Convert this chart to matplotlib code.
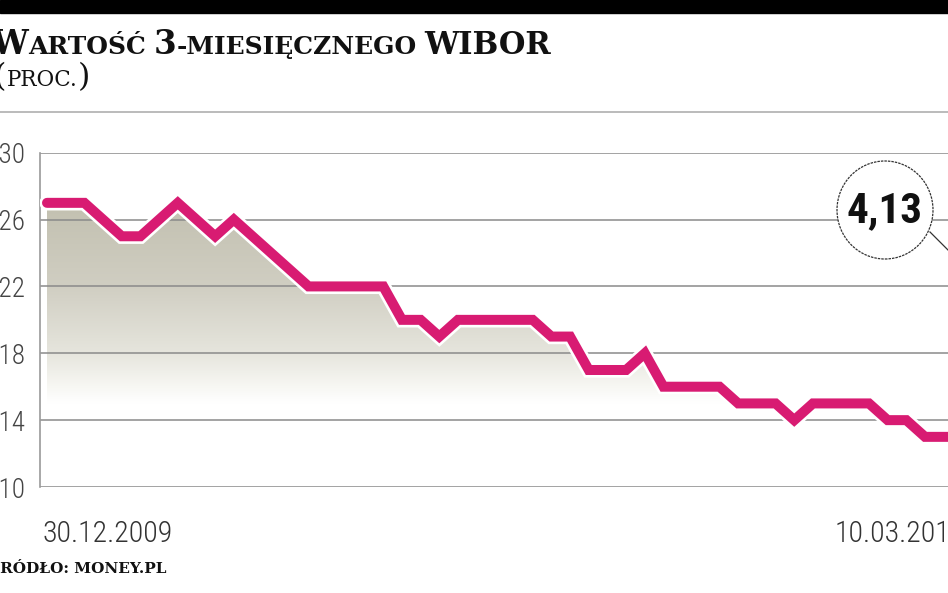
import numpy as np
import matplotlib
matplotlib.use("Agg")
import matplotlib.pyplot as plt
import matplotlib.patheffects as pe
from matplotlib import font_manager
from matplotlib.patches import Polygon, Ellipse, Rectangle
from matplotlib.lines import Line2D
from matplotlib.text import Annotation

# 3M WIBOR, daily fixings 30.12.2009 - 10.03.2010
wibor = [4.27, 4.27, 4.27, 4.26, 4.25, 4.25, 4.26, 4.27, 4.26, 4.25,
         4.26, 4.25, 4.24, 4.23, 4.22, 4.22, 4.22, 4.22, 4.22, 4.20,
         4.20, 4.19, 4.20, 4.20, 4.20, 4.20, 4.20, 4.19, 4.19, 4.17,
         4.17, 4.17, 4.18, 4.16, 4.16, 4.16, 4.16, 4.15, 4.15, 4.15,
         4.14, 4.15, 4.15, 4.15, 4.15, 4.14, 4.14, 4.13, 4.13, 4.13]
dates = ["30.12.2009", "10.03.2010"]
yticks = [4.10, 4.14, 4.18, 4.22, 4.26, 4.30]
ylabels = ["4,10", "4,14", "4,18", "4,22", "4,26", "4,30"]
title = [("W", 23.5, 0), ("ARTOŚĆ", 18, 0), ("3", 23.5, 8), ("-MIESIĘCZNEGO", 18, 0), ("WIBOR", 22, 8)]
subtitle = [("(", 23, 0), ("PROC.", 15.5, 0), (")", 23, 1)]
source = "ŹRÓDŁO: MONEY.PL"

W, H = 948, 593
def fx(px): return px / W
def fy(py): return 1 - py / H

# pick a narrow sans for the numbers, if there is one
names = {f.name for f in font_manager.fontManager.ttflist}
narrow = next((n for n in ["Liberation Sans Narrow", "DejaVu Sans Condensed", "Roboto Condensed"] if n in names), "DejaVu Sans")
serif = "DejaVu Serif"

fig = plt.figure(figsize=(W / 100, H / 100), dpi=100)
fig.patch.set_facecolor("white")

# top black band and thin rule under the header
fig.add_artist(Rectangle((0, fy(13)), 1, 13 / H, transform=fig.transFigure, color="black", zorder=5))
fig.add_artist(Line2D([0, 1], [fy(112), fy(112)], transform=fig.transFigure, color="#a8a8a8", lw=1.1))

# chained text pieces to fake small caps
def caps(pieces, x0, ybase, weight):
    prev = fig.text(fx(x0), fy(ybase), pieces[0][0], fontsize=pieces[0][1], family=serif,
                    weight=weight, ha="left", va="baseline", color="#111")
    for txt, size, gap in pieces[1:]:
        a = Annotation(txt, xy=(1, fy(ybase)), xycoords=(prev, "figure fraction"),
                       xytext=(gap, 0), textcoords="offset pixels", fontsize=size, family=serif,
                       weight=weight, ha="left", va="baseline", color="#111", annotation_clip=False)
        fig.add_artist(a)
        prev = a

caps(title, -9, 54, "bold")
caps(subtitle, -6, 86, "normal")
fig.text(fx(-11), fy(573), source, fontsize=11, family=serif, weight="bold",
         ha="left", va="baseline", color="#111")

ax = fig.add_axes([fx(40), fy(487), fx(948) - fx(40), (487 - 152.7) / H])
x = np.arange(len(wibor))
xmin, xmax = -0.375, 48.23

# gradient area under the line
stops_v = [4.10, 4.15, 4.16, 4.18, 4.22, 4.27, 4.30]
stops_c = [(255, 255, 255), (255, 255, 255), (247, 247, 243), (230, 229, 221),
           (208, 206, 194), (194, 192, 176), (194, 192, 176)]
yy = np.linspace(4.30, 4.10, 400)
rgb = np.stack([np.interp(yy, stops_v, [c[k] for c in stops_c]) for k in range(3)], axis=-1) / 255
im = ax.imshow(rgb[:, None, :], extent=(xmin, xmax, 4.10, 4.30), aspect="auto", zorder=1)
area = Polygon(np.column_stack([np.r_[x, x[-1], x[0]], np.r_[wibor, 4.10, 4.10]]),
               closed=True, facecolor="none", edgecolor="none")
ax.add_patch(area)
im.set_clip_path(area)

for v in yticks:
    ax.axhline(v, color="#8a8a8a", lw=1.1, zorder=2)

ax.plot(x, wibor, color="#d81b72", lw=7.2, solid_capstyle="round", solid_joinstyle="miter",
        path_effects=[pe.Stroke(linewidth=11, foreground="white"), pe.Normal()], zorder=4)

ax.set_xlim(xmin, xmax)
ax.set_ylim(4.10, 4.30)
ax.set_xticks([])
ax.set_yticks(yticks)
ax.set_yticklabels(ylabels, family=narrow, weight="light", fontsize=19.5, color="#444")
ax.tick_params(axis="y", length=0, pad=10.8)
for s in ["top", "right", "bottom"]:
    ax.spines[s].set_visible(False)
ax.spines["left"].set_color("#9a9a9a")
ax.spines["left"].set_linewidth(1.2)
ax.set_facecolor("none")

# date labels under the first and the last point
ax.annotate(dates[0], xy=(x[0], fy(542)), xycoords=("data", "figure fraction"),
            xytext=(-5, 0), textcoords="offset pixels", ha="left", va="baseline",
            family=narrow, weight="light", fontsize=21.5, color="#333", annotation_clip=False)
ax.annotate(dates[1], xy=(x[-1], fy(542)), xycoords=("data", "figure fraction"),
            xytext=(2, 0), textcoords="offset pixels", ha="right", va="baseline",
            family=narrow, weight="light", fontsize=21.5, color="#333", annotation_clip=False)

# callout circle with the last value
fig.add_artist(Line2D([fx(930), fx(968)], [fy(232), fy(270)], transform=fig.transFigure,
                      color="#333", lw=0.9, zorder=9))
fig.add_artist(Ellipse((fx(885), fy(210)), 96 / W, 98 / H, transform=fig.transFigure,
                       facecolor="white", edgecolor="#333", lw=0.9, ls=(0, (2, 0.8)), zorder=10))
fig.text(fx(884), fy(211), f"{wibor[-1]:.2f}".replace(".", ","), family=narrow, weight="bold",
         fontsize=31, ha="center", va="center", color="#111", zorder=11)

fig.savefig("out.png", dpi=100)
